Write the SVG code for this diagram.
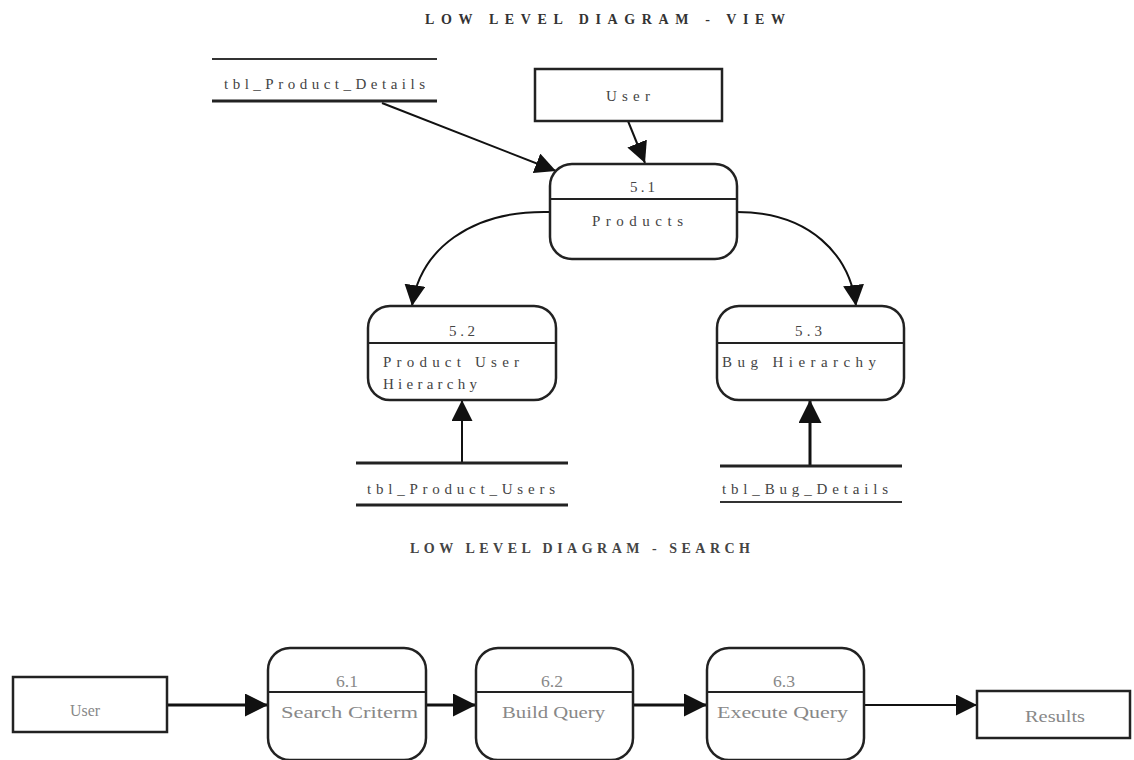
<svg xmlns="http://www.w3.org/2000/svg" width="1134" height="760" viewBox="0 0 1134 760">
<style>
text{font-family:"Liberation Serif","DejaVu Serif",serif;fill:#444;}
.t{font-size:15px;}
.title{font-size:14px;font-weight:bold;fill:#333;}
.b{font-size:17px;fill:#888;}
.box{fill:#fff;stroke:#222;stroke-width:2.5;}
.proc{fill:#fff;stroke:#222;stroke-width:2.5;}
.div{stroke:#222;stroke-width:2;}
.st{stroke:#333;stroke-width:2;}
.stb{stroke:#222;stroke-width:3;}
.c{fill:none;stroke:#111;stroke-width:2;}
.ct{fill:none;stroke:#111;stroke-width:3;}
</style>
<defs>
<marker id="ah2" viewBox="0 0 10 10" refX="10" refY="5" markerWidth="21" markerHeight="21" markerUnits="userSpaceOnUse" orient="auto"><path d="M0,0 L10,5 L0,10 z" fill="#111"/></marker>
<marker id="ah3" viewBox="0 0 10 10" refX="10" refY="5" markerWidth="23" markerHeight="23" markerUnits="userSpaceOnUse" orient="auto"><path d="M0,0 L10,5 L0,10 z" fill="#111"/></marker>
</defs>

<text class="title" x="425" y="24" textLength="360" lengthAdjust="spacing">LOW LEVEL DIAGRAM - VIEW</text>
<text class="title" x="410" y="553" textLength="340" lengthAdjust="spacing" style="fill:#444">LOW LEVEL DIAGRAM - SEARCH</text>

<g id="connectors">
<line class="c" x1="382" y1="103" x2="556" y2="171" marker-end="url(#ah2)"/>
<line class="c" x1="628" y1="121" x2="645" y2="163" marker-end="url(#ah2)"/>
<path class="c" d="M550,212 C470,210 420,250 412,306" marker-end="url(#ah2)"/>
<path class="c" d="M737,212 C810,212 850,255 856,306" marker-end="url(#ah2)"/>
<line class="c" x1="462" y1="463" x2="462" y2="400" marker-end="url(#ah2)"/>
<line class="ct" x1="810" y1="466" x2="810" y2="400" marker-end="url(#ah3)"/>
<line class="ct" x1="167" y1="705" x2="268" y2="705" marker-end="url(#ah3)"/>
<line class="ct" x1="426" y1="705" x2="476" y2="705" marker-end="url(#ah3)"/>
<line class="ct" x1="633" y1="705" x2="707" y2="705" marker-end="url(#ah3)"/>
<line class="c" x1="864" y1="705" x2="977" y2="705" marker-end="url(#ah2)"/>
</g>

<g id="tbl_product_details">
<line class="st" x1="212" y1="59" x2="437" y2="59"/>
<line class="stb" x1="212" y1="101" x2="437" y2="101"/>
<text class="t" x="224" y="89" textLength="201" lengthAdjust="spacing">tbl_Product_Details</text>
</g>

<g id="user_top">
<rect class="box" x="535" y="69" width="187" height="52"/>
<text class="t" x="606" y="101" textLength="44" lengthAdjust="spacing">User</text>
</g>

<g id="p51">
<rect class="proc" x="550" y="164" width="187" height="95" rx="22"/>
<line class="div" x1="550" y1="199" x2="737" y2="199"/>
<text class="t" x="630" y="192" textLength="25" lengthAdjust="spacing">5.1</text>
<text class="t" x="592" y="226" textLength="91" lengthAdjust="spacing">Products</text>
</g>

<g id="p52">
<rect class="proc" x="368" y="306" width="188" height="94" rx="22"/>
<line class="div" x1="368" y1="343" x2="556" y2="343"/>
<text class="t" x="449" y="336" textLength="26" lengthAdjust="spacing">5.2</text>
<text class="t" x="383" y="367" textLength="136" lengthAdjust="spacing">Product User</text>
<text class="t" x="383" y="389" textLength="94" lengthAdjust="spacing">Hierarchy</text>
</g>

<g id="p53">
<rect class="proc" x="717" y="306" width="187" height="94" rx="22"/>
<line class="div" x1="717" y1="343" x2="904" y2="343"/>
<text class="t" x="795" y="336" textLength="27" lengthAdjust="spacing">5.3</text>
<text class="t" x="722" y="367" textLength="154" lengthAdjust="spacing">Bug Hierarchy</text>
</g>

<g id="tbl_product_users">
<line class="stb" x1="356" y1="463" x2="568" y2="463"/>
<line class="stb" x1="356" y1="505" x2="568" y2="505"/>
<text class="t" x="367" y="494" textLength="188" lengthAdjust="spacing">tbl_Product_Users</text>
</g>

<g id="tbl_bug_details">
<line class="stb" x1="720" y1="466" x2="902" y2="466"/>
<line class="st" x1="720" y1="502" x2="902" y2="502"/>
<text class="t" x="722" y="494" textLength="166" lengthAdjust="spacing">tbl_Bug_Details</text>
</g>

<g id="user_bottom">
<rect class="box" x="13" y="677" width="154" height="55"/>
<text class="b" x="70" y="716" textLength="30" lengthAdjust="spacingAndGlyphs">User</text>
</g>

<g id="p61">
<rect class="proc" x="268" y="648" width="158" height="112" rx="22"/>
<line class="div" x1="268" y1="692" x2="426" y2="692"/>
<text class="b" x="336" y="687" textLength="22" lengthAdjust="spacingAndGlyphs">6.1</text>
<text class="b" x="281" y="718" textLength="137" lengthAdjust="spacingAndGlyphs">Search Criterm</text>
</g>

<g id="p62">
<rect class="proc" x="476" y="648" width="157" height="112" rx="22"/>
<line class="div" x1="476" y1="692" x2="633" y2="692"/>
<text class="b" x="541" y="687" textLength="22" lengthAdjust="spacingAndGlyphs">6.2</text>
<text class="b" x="502" y="718" textLength="103" lengthAdjust="spacingAndGlyphs">Build Query</text>
</g>

<g id="p63">
<rect class="proc" x="707" y="648" width="157" height="112" rx="22"/>
<line class="div" x1="707" y1="692" x2="864" y2="692"/>
<text class="b" x="773" y="687" textLength="22" lengthAdjust="spacingAndGlyphs">6.3</text>
<text class="b" x="717" y="718" textLength="131" lengthAdjust="spacingAndGlyphs">Execute Query</text>
</g>

<g id="results">
<rect class="box" x="977" y="691" width="153" height="47"/>
<text class="b" x="1025" y="722" textLength="60" lengthAdjust="spacingAndGlyphs">Results</text>
</g>
</svg>
